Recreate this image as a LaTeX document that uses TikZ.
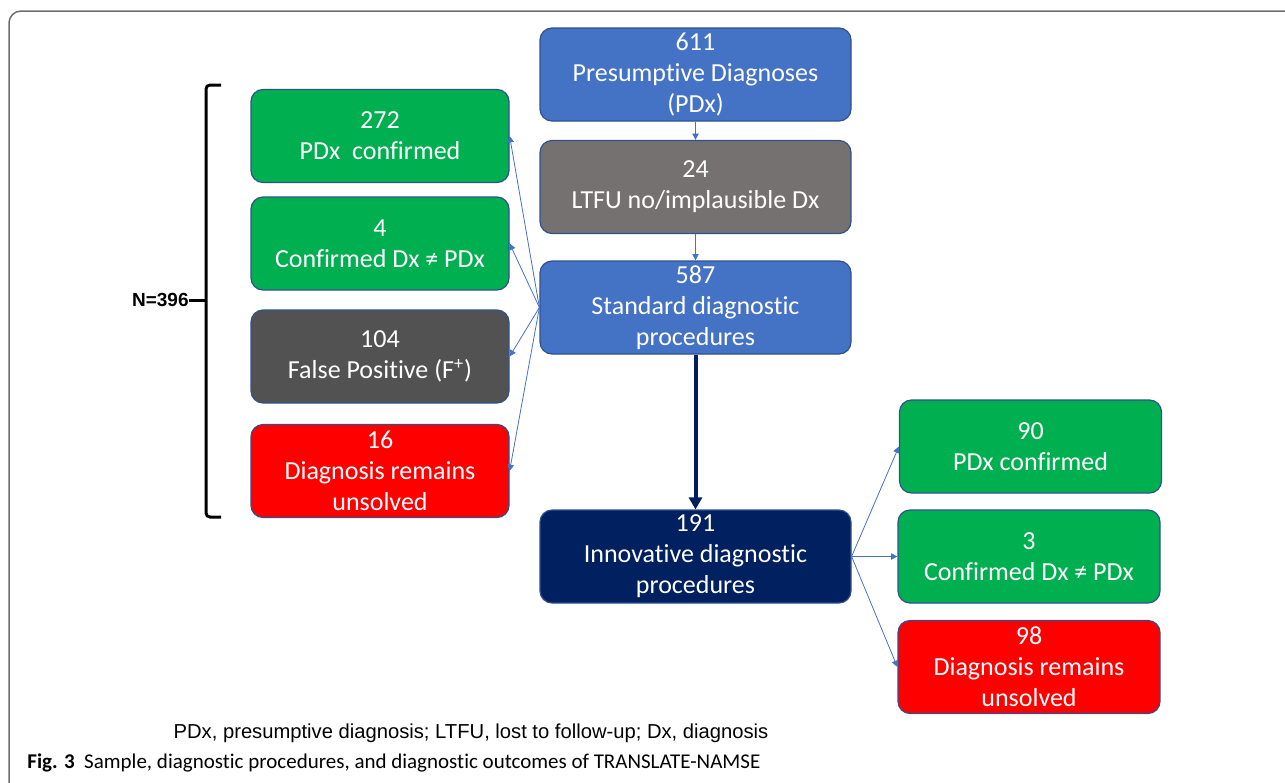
\documentclass[tikz,border=0pt]{standalone}
\usepackage{fontspec}
\usetikzlibrary{arrows.meta}
\newfontfamily\boxfont{Carlito}[Ligatures=NoCommon]
\newfontfamily\arialfont{Liberation Sans}
\newfontfamily\capfont{Carlito}[Ligatures=NoCommon]
\definecolor{pdxblue}{HTML}{4472C4}
\definecolor{ltfugray}{HTML}{767171}
\definecolor{okgreen}{HTML}{00B050}
\definecolor{fpgray}{HTML}{525252}
\definecolor{unsolvedred}{HTML}{FF0000}
\definecolor{innonavy}{HTML}{002060}
\definecolor{boxline}{HTML}{2F528F}
\definecolor{framegray}{HTML}{6E6E6E}
\tikzset{
  box/.style={draw=boxline, line width=0.6pt, rounded corners=6pt, text=white,
    align=center, inner sep=0pt, minimum height=46.5pt,
    font={\boxfont\fontsize{13}{15.5}\selectfont}},
  midbox/.style={box, minimum width=155.5pt},
  leftbox/.style={box, minimum width=129pt},
  rightbox/.style={box, minimum width=131pt},
  thinarrow/.style={draw=pdxblue, line width=0.4pt, -{Triangle[width=3.2pt,length=3.2pt]}},
  thickarrow/.style={draw=innonavy, line width=2pt, -{Triangle[width=6.5pt,length=6pt]}},
}
\begin{document}
\begin{tikzpicture}[x=0.5pt,y=-0.5pt]
  \useasboundingbox (0,0) rectangle (1285,782);
  \begin{scope}
    \clip (0,0) rectangle (1285,782);
    \draw [framegray, line width=0.75pt, rounded corners=6pt] (9,11) rectangle (1320,810);
  \end{scope}
  % centre column
  \node [midbox, fill=pdxblue] (pdx) at (695.5,74.5) {611\\Presumptive Diagnoses\\(PDx)};
  \node [midbox, fill=ltfugray] (ltfu) at (695.5,187) {24\\LTFU no/implausible Dx};
  \node [midbox, fill=pdxblue] (std) at (695.5,307.5) {587\\Standard diagnostic\\procedures};
  \node [midbox, fill=innonavy] (inno) at (695.5,556.5) {191\\Innovative diagnostic\\procedures};
  % outcomes of standard procedures
  \node [leftbox, fill=okgreen] (sconf) at (380,136) {272\\PDx\ \ confirmed};
  \node [leftbox, fill=okgreen] (sdiff) at (380,243.5) {4\\Confirmed Dx ≠ PDx};
  \node [leftbox, fill=fpgray] (sfp) at (380,356.5) {104\\False Positive (F\textsuperscript{+})};
  \node [leftbox, fill=unsolvedred] (sunsolved) at (380,471) {16\\Diagnosis remains\\unsolved};
  % outcomes of innovative procedures
  \node [rightbox, fill=okgreen] (iconf) at (1030.5,446.5) {90\\PDx confirmed};
  \node [rightbox, fill=okgreen] (idiff) at (1029,556.5) {3\\Confirmed Dx ≠ PDx};
  \node [rightbox, fill=unsolvedred] (iunsolved) at (1029,667) {98\\Diagnosis remains\\unsolved};
  % arrows
  \draw [thinarrow] (pdx) -- (ltfu);
  \draw [thinarrow] (ltfu) -- (std);
  \draw [thickarrow] (std) -- (inno);
  \foreach \t in {sconf,sdiff,sfp,sunsolved}
    \draw [thinarrow] (std.west) -- (\t.east);
  \foreach \t in {iconf,idiff,iunsolved}
    \draw [thinarrow] (inno.east) -- (\t.west);
  % bracket with total
  \node [anchor=east, inner sep=0pt, font={\arialfont\bfseries\fontsize{9.5}{11}\selectfont}] (total) at (189,300) {N=396};
  \coordinate (brtop) at (221,85);
  \coordinate (brmid) at (206,300);
  \coordinate (brbot) at (221,517);
  \draw [line width=1.5pt, rounded corners=2pt] (brtop) -| (brmid) |- (brbot);
  \draw [line width=1.5pt] (brmid) -- (total.east);
  % captions
  \node [inner sep=0pt, font={\arialfont\fontsize{10.1}{12}\selectfont}] (abbr) at (471,733) {PDx, presumptive diagnosis; LTFU, lost to follow-up; Dx, diagnosis};
  \node [anchor=west, inner sep=0pt, font={\capfont\fontsize{10.5}{12}\selectfont}] (figcap) at (27,763) {\textbf{Fig. 3}\ \ Sample, diagnostic procedures, and diagnostic outcomes of TRANSLATE-NAMSE};
\end{tikzpicture}
\end{document}
